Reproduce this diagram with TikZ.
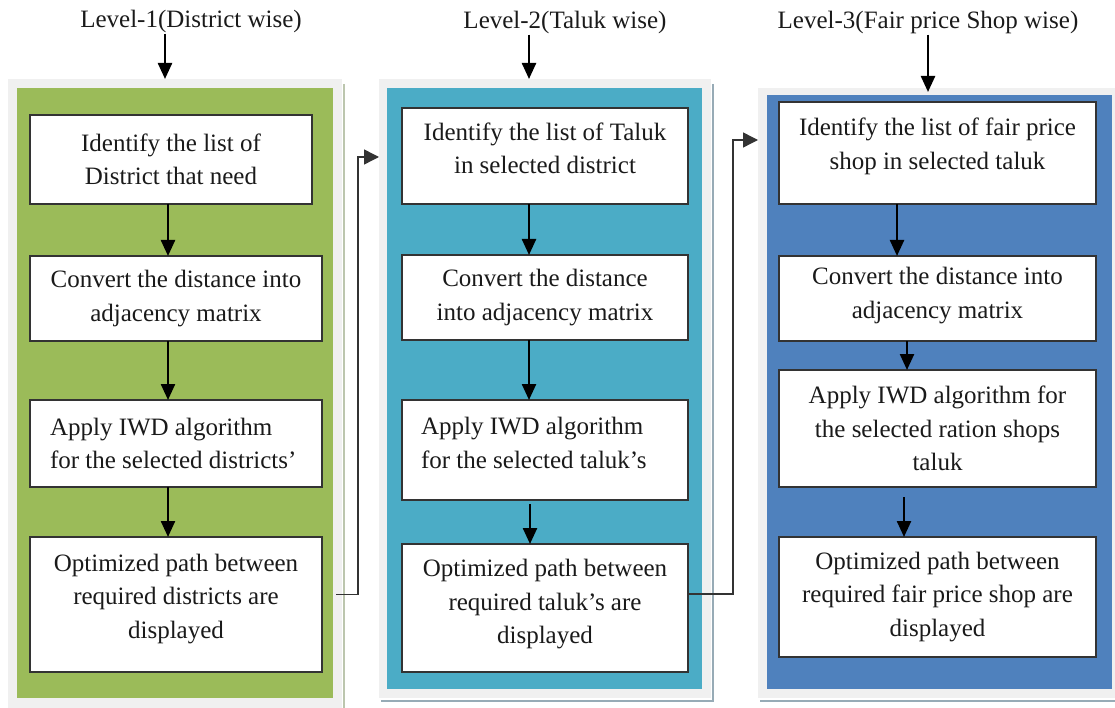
\documentclass[tikz,border=0pt]{standalone}
\usepackage{fontspec}
\setmainfont{Liberation Serif}
\usetikzlibrary{arrows.meta,calc}
\definecolor{frameg}{HTML}{F0F0F0}
\definecolor{lvlone}{HTML}{9BBB59}
\definecolor{lvltwo}{HTML}{4BACC6}
\definecolor{lvlthree}{HTML}{4F81BD}
\definecolor{boxline}{HTML}{333333}
\definecolor{shadeone}{HTML}{BCC6AE}
\definecolor{shadetwo}{HTML}{97ABB6}
\definecolor{inktext}{HTML}{1A1A1A}

\begin{document}
\begin{tikzpicture}[x=1pt,y=-1pt,
  frame/.style={fill=frameg, draw=none, inner sep=0pt, outer sep=0pt},
  panel/.style={fill=#1, draw=none, inner sep=0pt, outer sep=0pt},
  stepbox/.style={draw=boxline, line width=1.5pt, fill=white, align=center,
    inner sep=0pt, outer sep=0pt, text=inktext,
    font=\fontsize{25}{33.5}\selectfont},
  lift/.style={text depth=#1},
  title/.style={font=\fontsize{25}{30}\selectfont, text=inktext,
    inner sep=0pt, anchor=base},
  flow/.style={line width=2.4pt, -{Triangle[width=14pt,length=16pt]}},
  hop/.style={draw=boxline, line width=1.4pt, -{Triangle[width=15pt,length=15pt]}},
  shade/.style={line width=2pt}
]
\useasboundingbox (0,0) rectangle (1115,708);

% panel frames and coloured panels
\node[frame, minimum width=334pt, minimum height=631pt] (f1) at (175,394.5) {};
\node[panel=lvlone, minimum width=316pt, minimum height=610pt] (g1) at (175,393) {};
\node[frame, minimum width=332pt, minimum height=619pt] (f2) at (545,388.5) {};
\node[panel=lvltwo, minimum width=315pt, minimum height=601pt] (g2) at (544.5,388.5) {};
\node[frame, minimum width=359pt, minimum height=610pt] (f3) at (937.5,393) {};
\node[panel=lvlthree, minimum width=345pt, minimum height=594pt] (g3) at (939.5,392) {};

% drop shadows
\draw[shade, shadeone] (343.5,84) -- (343.5,710);
\draw[shade, shadetwo] (712.5,84) -- (712.5,701) -- (381,701);
\draw[shade, shadetwo] (760,701) -- (1116,701);

% level titles
\node[title] (t1) at (191,28) {Level-1(District wise)};
\node[title] (t2) at (565,29) {Level-2(Taluk wise)};
\node[title] (t3) at (928,29) {Level-3(Fair price Shop wise)};

% level 1 steps
\node[stepbox, minimum width=282pt, minimum height=89pt] (a1) at (171,159.5)
  {Identify the list of\\District that need};
\node[stepbox, minimum width=292pt, minimum height=85pt] (a2) at (176,298.5)
  {Convert the distance into\\adjacency matrix};
\node[stepbox, align=left, minimum width=292pt, minimum height=87pt] (a3) at (176,443.5)
  {Apply IWD algorithm\\\makebox[252pt][l]{for the selected districts’}};
\node[stepbox, lift=17pt, minimum width=292pt, minimum height=135pt] (a4) at (176,604.5)
  {Optimized path between\\required districts are\\displayed};

% level 2 steps
\node[stepbox, lift=16pt, minimum width=286pt, minimum height=96pt] (b1) at (545,156)
  {Identify the list of Taluk\\in selected district};
\node[stepbox, minimum width=286pt, minimum height=85pt] (b2) at (545,297.5)
  {Convert the distance\\into adjacency matrix};
\node[stepbox, align=left, lift=14pt, minimum width=286pt, minimum height=100pt] (b3) at (545,450)
  {Apply IWD algorithm\\\makebox[248pt][l]{for the selected taluk’s}};
\node[stepbox, lift=13pt, minimum width=286pt, minimum height=128pt] (b4) at (545,608)
  {Optimized path between\\required taluk’s are\\displayed};

% level 3 steps
\node[stepbox, lift=19pt, minimum width=317pt, minimum height=102pt] (c1) at (937.5,153)
  {Identify the list of fair price\\shop in selected taluk};
\node[stepbox, lift=11pt, minimum width=317pt, minimum height=85pt] (c2) at (937.5,298.5)
  {Convert the distance into\\adjacency matrix};
\node[stepbox, minimum width=317pt, minimum height=117pt] (c3) at (937.5,428.5)
  {Apply IWD algorithm for\\the selected ration shops\\taluk};
\node[stepbox, minimum width=317pt, minimum height=120pt] (c4) at (937.5,597)
  {Optimized path between\\required fair price shop are\\displayed};

% arrows from the titles into the panels
\draw[flow] ([xshift=-26pt]t1.south) -- ([xshift=-10pt]f1.north);
\draw[flow] ([xshift=-36pt]t2.south) -- ([xshift=-16pt]f2.north);
\draw[flow] (t3.south) -- ([xshift=-9.5pt,yshift=-4pt]f3.north);

% arrows between steps
\draw[flow] ([xshift=-3pt]a1.south) -- ([xshift=-3pt]a1.south |- a2.north);
\draw[flow] ([xshift=-8pt]a2.south) -- ([xshift=-8pt]a2.south |- a3.north);
\draw[flow] ([xshift=-8pt]a3.south) -- ([xshift=-8pt]a3.south |- a4.north);

\draw[flow] ([xshift=-16pt]b1.south) -- ([xshift=-16pt]b1.south |- b2.north);
\draw[flow] ([xshift=-16pt]b2.south) -- ([xshift=-16pt]b2.south |- b3.north);
\draw[flow] ([xshift=-15pt,yshift=-4pt]b3.south) -- ([xshift=-15pt]b3.south |- b4.north);

\draw[flow] ([xshift=-40.5pt]c1.south) -- ([xshift=-40.5pt]c1.south |- c2.north);
\draw[flow] ([xshift=-30.5pt]c2.south) -- ([xshift=-30.5pt]c2.south |- c3.north);
\draw[flow] ([xshift=-33.5pt,yshift=-10pt]c3.south) -- ([xshift=-33.5pt]c3.south |- c4.north);

% hand-over from one level to the next
\draw[hop] ([xshift=14pt,yshift=10pt]a4.east) -- ++(22,0) |- ([yshift=-1pt]b1.west -| f2.west);
\draw[hop] ([yshift=14pt]b4.east) -- ++(45,0) |- ([yshift=13pt]c1.west -| f3.west);
\end{tikzpicture}
\end{document}
